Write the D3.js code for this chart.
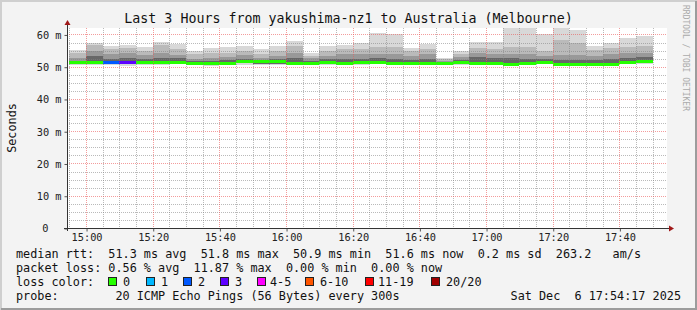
<!DOCTYPE html>
<html>
<head>
<meta charset="utf-8">
<script src="https://cdn.jsdelivr.net/npm/d3@7"></script>
<style>
    body { margin: 0; background: #ffffff; }
    svg text { font-family: "DejaVu Sans Mono", monospace; white-space: pre; }
</style>
</head>
<body>
<div id="chart"></div>
<script>

// 5 minute steps (end of each step), Sat Dec 6 2025
const stepEnds = ["15:00", "15:05", "15:10", "15:15", "15:20", "15:25", "15:30", "15:35", "15:40", "15:45",
    "15:50", "15:55", "16:00", "16:05", "16:10", "16:15", "16:20", "16:25", "16:30", "16:35",
    "16:40", "16:45", "16:50", "16:55", "17:00", "17:05", "17:10", "17:15", "17:20", "17:25",
    "17:30", "17:35", "17:40", "17:45", "17:50"];

// smoke bands (ms)
const maxPing = [55.1, 57.5, 56.3, 56.6, 56.0, 57.6, 57.0, 55.0, 55.8, 56.0, 56.3, 55.4, 56.5, 57.9, 54.4, 56.5, 56.8, 57.2,
    60.4, 60.0, 55.9, 56.9, 52.6, 54.9, 57.6, 57.6, 62.0, 62.0, 60.2, 62.0, 61.3, 56.5, 57.5, 59.0, 59.4];
const upper1 = [54.3, 56.7, 55.4, 55.8, 54.9, 56.7, 55.4, 53.9, 54.3, 54.3, 54.9, 54.0, 54.9, 56.4, 53.3, 55.0, 55.4, 55.4,
    56.1, 56.0, 54.9, 55.4, 52.3, 53.9, 55.7, 55.5, 56.0, 56.0, 55.0, 58.4, 57.5, 55.3, 55.8, 56.0, 56.5];
const upper2 = [52.7, 55.0, 53.8, 54.4, 53.6, 54.3, 53.6, 52.4, 52.8, 52.9, 53.5, 52.6, 53.4, 54.3, 52.6, 53.4, 54.0, 54.0,
    54.0, 54.0, 53.4, 54.0, 51.9, 52.9, 54.4, 54.0, 53.9, 53.9, 53.4, 53.6, 53.6, 53.4, 53.9, 54.4, 54.4];
const upper3 = [51.9, 53.3, 52.5, 52.6, 52.4, 52.8, 52.6, 51.8, 51.9, 52.0, 52.4, 52.1, 52.3, 52.6, 51.9, 52.3, 52.5, 52.5,
    52.6, 52.4, 52.1, 52.5, 51.6, 52.2, 52.9, 52.7, 52.6, 52.4, 52.4, 52.2, 52.2, 52.2, 52.4, 52.7, 52.9];
const medianRtt = [51.4, 51.5, 51.4, 51.4, 51.4, 51.4, 51.5, 51.2, 51.0, 51.3, 51.8, 51.7, 51.7, 51.3, 51.3, 51.4, 51.3, 51.4,
    51.5, 51.3, 51.1, 51.3, 51.1, 51.4, 51.3, 51.3, 50.9, 51.3, 51.6, 50.9, 50.9, 50.9, 50.9, 51.6, 51.8];
const lower1 = [50.8, 50.9, 50.8, 50.7, 50.9, 50.9, 51.0, 50.8, 50.5, 50.9, 51.0, 50.9, 50.9, 50.9, 50.8, 50.8, 50.8, 50.9,
    51.0, 50.8, 50.7, 50.9, 50.8, 50.9, 50.9, 50.9, 50.6, 50.9, 51.1, 50.6, 50.6, 50.6, 50.5, 51.1, 51.2];
const minPing = [50.4, 50.5, 50.5, 50.3, 50.6, 50.6, 50.7, 50.5, 50.3, 50.6, 50.6, 50.6, 50.4, 50.6, 50.5, 50.4, 50.5, 50.6,
    50.7, 50.5, 50.4, 50.6, 50.5, 50.6, 50.6, 50.6, 50.3, 50.5, 50.7, 50.3, 50.3, 50.3, 50.2, 50.7, 50.9];
// lost pings out of 20 per step
const lossCount = [0, 0, 2, 3, 0, 0, 0, 0, 0, 0, 0, 0, 0, 0, 0, 0, 0, 0,
    0, 0, 0, 0, 0, 0, 0, 0, 0, 0, 0, 0, 0, 0, 0, 0, 0];

const yTicks = [0, 10, 20, 30, 40, 50, 60];
const timeTicks = ["15:00", "15:20", "15:40", "16:00", "16:20", "16:40", "17:00", "17:20", "17:40"];

const lossLabels = ["0", "1", "2", "3", "4-5", "6-10", "11-19", "20/20"];
const lossMax = [0, 1, 2, 3, 5, 10, 19, 20];
const lossColors = ["#26ff00", "#00b8ff", "#0059ff", "#5e00ff", "#ff00ff", "#ff5500", "#ff0000", "#a10000"];

const titleText = "Last 3 Hours from yakushima-nz1 to Australia (Melbourne)";
const statLines = [
    "median rtt:  51.3 ms avg  51.8 ms max  50.9 ms min  51.6 ms now  0.2 ms sd  263.2   am/s",
    "packet loss: 0.56 % avg  11.87 % max  0.00 % min  0.00 % now",
    "loss color:",
    "probe:        20 ICMP Echo Pings (56 Bytes) every 300s"
];
const stampText = "Sat Dec  6 17:54:17 2025";


class SmokeVis {

    constructor(_parentElement) {
        this.parentElement = _parentElement;
        this.parseTime = d3.utcParse("%Y-%m-%d %H:%M:%S");
        this.initVis();
    }

    initVis() {
        let vis = this;

        vis.W = 697;
        vis.H = 310;
        vis.plot = { left: 67, top: 28, width: 600, height: 200 };

        vis.svg = d3.select("#" + vis.parentElement).append("svg")
            .attr("width", vis.W)
            .attr("height", vis.H);

        // canvas + 3d frame
        vis.svg.append("rect").attr("width", vis.W).attr("height", vis.H).attr("fill", "#f3f3f3");
        vis.svg.append("path").attr("d", `M1,${vis.H} V1 H${vis.W}`)
            .attr("fill", "none").attr("stroke", "#cfcfcf").attr("stroke-width", 2);
        vis.svg.append("path").attr("d", `M1,${vis.H - 1} H${vis.W - 1} V1`)
            .attr("fill", "none").attr("stroke", "#9c9c9c").attr("stroke-width", 2);

        vis.svg.append("rect")
            .attr("x", vis.plot.left).attr("y", vis.plot.top)
            .attr("width", vis.plot.width).attr("height", vis.plot.height)
            .attr("fill", "white");

        vis.start = vis.parseTime("2025-12-06 14:54:17");
        vis.end = vis.parseTime("2025-12-06 17:54:17");

        vis.x = d3.scaleUtc()
            .domain([vis.start, vis.end])
            .range([vis.plot.left, vis.plot.left + vis.plot.width]);
        vis.y = d3.scaleLinear()
            .domain([0, 62])
            .range([vis.plot.top + vis.plot.height, vis.plot.top]);

        vis.wrangleData();
    }

    wrangleData() {
        let vis = this;

        vis.displayData = stepEnds.map((t, i) => {
            let end = vis.parseTime("2025-12-06 " + t + ":00");
            let begin = new Date(Math.max(+vis.start, +end - 300000));
            let lossIdx = lossMax.findIndex(m => lossCount[i] <= m);
            return {
                begin: begin,
                end: end,
                layers: [
                    [minPing[i], maxPing[i]],
                    [lower1[i], upper1[i]],
                    [lower1[i], upper2[i]],
                    [lower1[i], upper3[i]]
                ],
                median: medianRtt[i],
                color: lossColors[lossIdx]
            };
        });

        vis.updateVis();
    }

    updateVis() {
        let vis = this;
        let px = v => Math.round(v);
        let layerColors = ["#d8d8d8", "#bababa", "#999999", "#676767"];

        // smoke
        let cols = vis.svg.append("g").attr("class", "smoke")
            .selectAll("g")
            .data(vis.displayData)
            .enter()
            .append("g");

        cols.selectAll("rect")
            .data(d => d.layers.map((l, k) => ({ d: d, lo: l[0], hi: Math.min(l[1], 62), k: k })))
            .enter()
            .append("rect")
            .attr("x", e => px(vis.x(e.d.begin)))
            .attr("width", e => px(vis.x(e.d.end)) - px(vis.x(e.d.begin)))
            .attr("y", e => px(vis.y(e.hi)))
            .attr("height", e => px(vis.y(e.lo)) - px(vis.y(e.hi)))
            .attr("fill", e => layerColors[e.k]);

        // median line coloured by loss
        cols.append("rect")
            .attr("x", d => px(vis.x(d.begin)))
            .attr("width", d => px(vis.x(d.end)) - px(vis.x(d.begin)))
            .attr("y", d => px(vis.y(d.median)) - 1)
            .attr("height", 3)
            .attr("fill", d => d.color);

        // grid on top
        let grid = vis.svg.append("g").attr("class", "grid")
            .attr("fill", "none").attr("stroke-dasharray", "1,1");
        let x0 = vis.plot.left, x1 = vis.plot.left + vis.plot.width;
        let y0 = vis.plot.top, y1 = vis.plot.top + vis.plot.height;

        let minorY = d3.range(2.5, 62, 2.5).filter(v => v % 10 !== 0);
        grid.selectAll(".hminor").data(minorY).enter().append("line")
            .attr("class", "hminor")
            .attr("x1", x0).attr("x2", x1)
            .attr("y1", d => px(vis.y(d)) + 0.5).attr("y2", d => px(vis.y(d)) + 0.5)
            .attr("stroke", "rgba(130,130,130,0.55)");

        let minorX = d3.utcMinute.every(5).range(vis.start, vis.end)
            .filter(t => t.getUTCMinutes() % 20 !== 0);
        grid.selectAll(".vminor").data(minorX).enter().append("line")
            .attr("class", "vminor")
            .attr("y1", y0).attr("y2", y1)
            .attr("x1", d => px(vis.x(d)) + 0.5).attr("x2", d => px(vis.x(d)) + 0.5)
            .attr("stroke", "rgba(130,130,130,0.55)");

        grid.selectAll(".hmajor").data(yTicks.slice(1)).enter().append("line")
            .attr("class", "hmajor")
            .attr("x1", x0).attr("x2", x1)
            .attr("y1", d => px(vis.y(d)) + 0.5).attr("y2", d => px(vis.y(d)) + 0.5)
            .attr("stroke", "rgba(235,90,90,0.6)");

        let tickDates = timeTicks.map(t => vis.parseTime("2025-12-06 " + t + ":00"));
        grid.selectAll(".vmajor").data(tickDates).enter().append("line")
            .attr("class", "vmajor")
            .attr("y1", y0).attr("y2", y1)
            .attr("x1", d => px(vis.x(d)) + 0.5).attr("x2", d => px(vis.x(d)) + 0.5)
            .attr("stroke", "rgba(235,90,90,0.6)");

        // axes
        vis.xAxis = d3.axisBottom(vis.x)
            .tickValues(tickDates)
            .tickFormat(d3.utcFormat("%H:%M"))
            .tickSize(3)
            .tickPadding(2);
        let gx = vis.svg.append("g")
            .attr("class", "axis x-axis")
            .attr("transform", "translate(0.5," + (y1 + 0.5) + ")")
            .call(vis.xAxis);

        vis.yAxis = d3.axisLeft(vis.y)
            .tickValues(yTicks)
            .tickFormat(d => d === 0 ? "0" : d + " m")
            .tickSize(3)
            .tickPadding(3);
        let gy = vis.svg.append("g")
            .attr("class", "axis y-axis")
            .attr("transform", "translate(" + (x0 + 0.5) + ",0.5)")
            .call(vis.yAxis);

        [gx, gy].forEach(g => {
            g.select(".domain").remove();
            g.selectAll("line").attr("stroke", "#555");
            g.selectAll("text")
                .attr("fill", "#222")
                .style("font-size", "10.3px");
        });
        gy.selectAll("text").filter(d => d === 0).attr("dx", -13);

        vis.svg.append("line")
            .attr("x1", x0 - 3).attr("x2", x1 + 3)
            .attr("y1", y1 + 0.5).attr("y2", y1 + 0.5)
            .attr("stroke", "#333");
        vis.svg.append("line")
            .attr("x1", x0 + 0.5).attr("x2", x0 + 0.5)
            .attr("y1", y1 + 3).attr("y2", y0 - 5)
            .attr("stroke", "#333");

        // arrows
        vis.svg.append("path")
            .attr("d", `M${x1 + 2},${y1 - 2.5} L${x1 + 7},${y1 + 0.5} L${x1 + 2},${y1 + 3.5} Z`)
            .attr("fill", "#a01818");
        vis.svg.append("path")
            .attr("d", `M${x0 - 2.5},${y0 - 3} L${x0 + 0.5},${y0 - 8} L${x0 + 3.5},${y0 - 3} Z`)
            .attr("fill", "#a01818");

        // title and labels
        vis.svg.append("text")
            .attr("x", 348.5).attr("y", 23)
            .attr("text-anchor", "middle")
            .style("font-size", "13.3px")
            .attr("fill", "#111")
            .text(titleText);

        vis.svg.append("text")
            .attr("transform", "translate(15.5,128) rotate(-90)")
            .attr("text-anchor", "middle")
            .style("font-size", "11.8px")
            .attr("fill", "#111")
            .text("Seconds");

        vis.svg.append("text")
            .attr("transform", "translate(683,5) rotate(90)")
            .style("font-size", "8px")
            .attr("fill", "#aaaaaa")
            .text("RRDTOOL / TOBI OETIKER");

        // legend
        let legend = vis.svg.append("g").attr("class", "legend")
            .style("font-size", "11.8px").attr("fill", "#111");
        statLines.forEach((s, i) => {
            legend.append("text").attr("x", 16).attr("y", 257.5 + i * 14).text(s);
        });
        legend.append("text")
            .attr("x", 681).attr("y", 299.5)
            .attr("text-anchor", "end")
            .text(stampText);

        let boxX = [108, 146, 183, 220, 257, 305, 365, 431];
        let labelX = [123, 161, 198, 235, 270, 320, 378, 446];
        let entries = legend.selectAll(".loss")
            .data(lossLabels)
            .enter()
            .append("g")
            .attr("class", "loss");
        entries.append("rect")
            .attr("x", (d, i) => boxX[i] + 0.5).attr("y", 277.5)
            .attr("width", 8).attr("height", 8)
            .attr("fill", (d, i) => lossColors[i])
            .attr("stroke", "#222");
        entries.append("text")
            .attr("x", (d, i) => labelX[i])
            .attr("y", 285.5)
            .text(d => d);
    }
}

new SmokeVis("chart");

</script>
</body>
</html>
